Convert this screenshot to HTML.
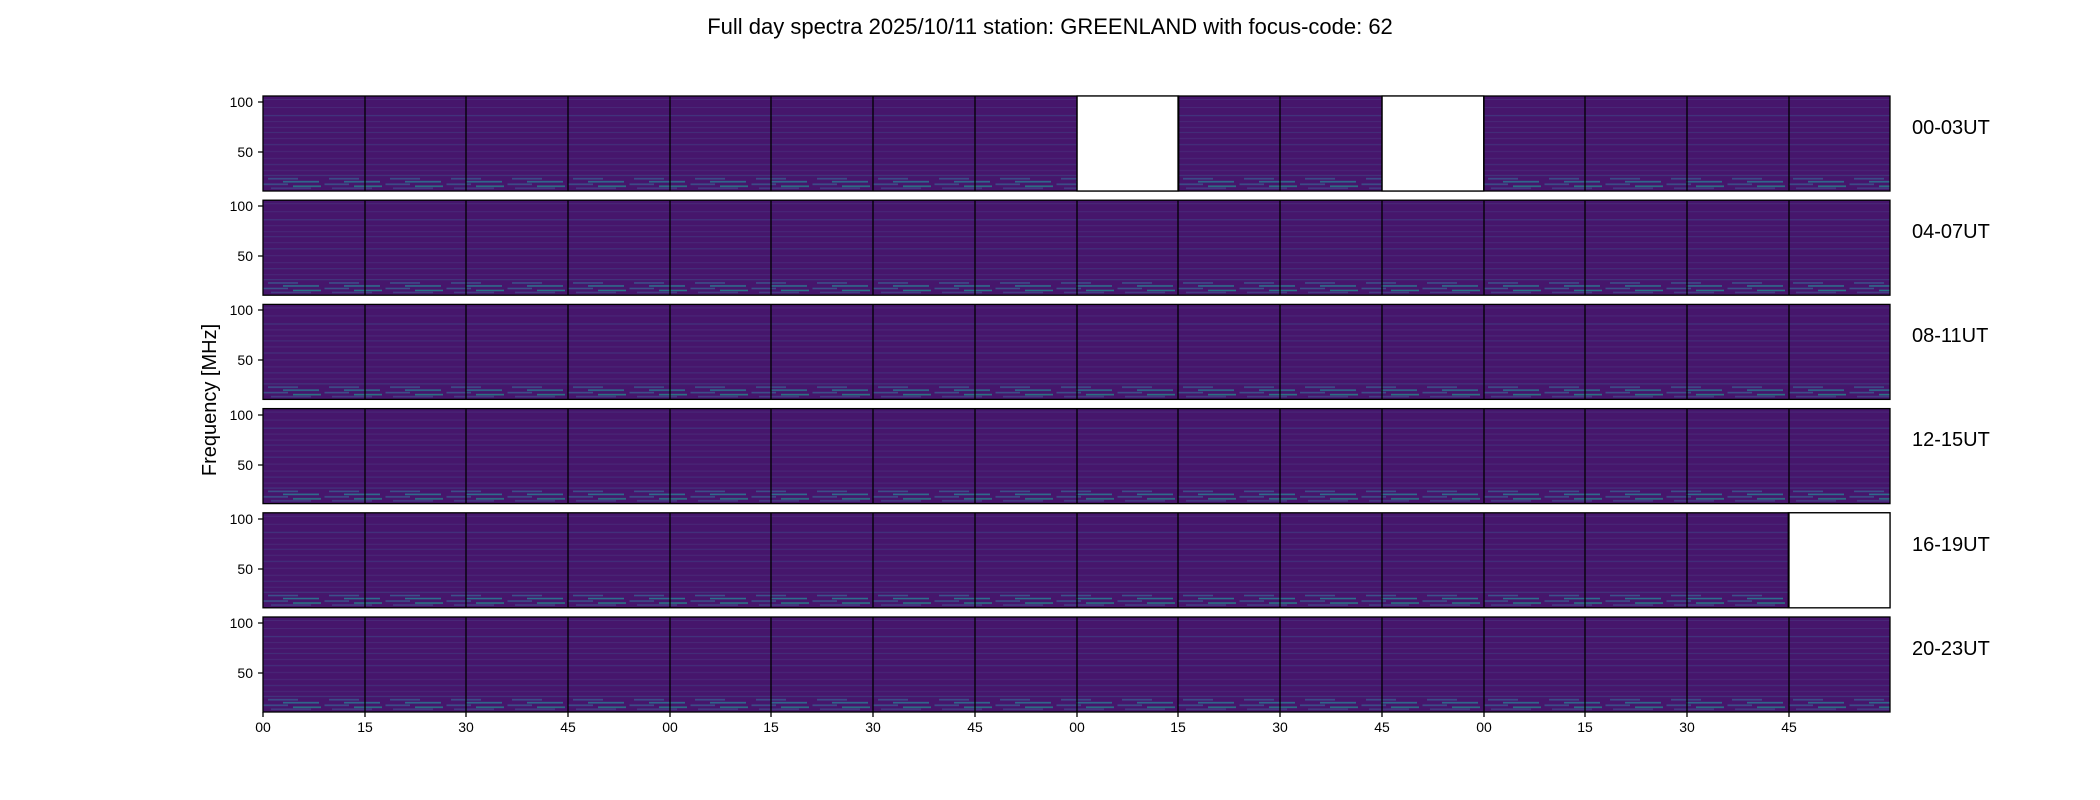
<!DOCTYPE html>
<html><head><meta charset="utf-8"><style>
html,body{margin:0;padding:0;background:#fff;width:2100px;height:800px;overflow:hidden}
svg text{font-family:"Liberation Sans","DejaVu Sans",sans-serif;fill:#000}
</style></head><body>
<svg width="2100" height="800" xmlns="http://www.w3.org/2000/svg">
<defs>
<pattern id="sp" patternUnits="userSpaceOnUse" x="263" y="96" width="61" height="104.2">
<rect width="61" height="104.2" fill="#46166c"/>
<rect y="3" width="61" height="1" fill="#482878"/>
<rect y="11" width="61" height="1" fill="#482878"/>
<rect y="19" width="61" height="1.2" fill="#3e4a89" opacity="0.6"/>
<rect y="25" width="61" height="1" fill="#482878"/>
<rect y="31" width="61" height="1" fill="#482878"/>
<rect y="36" width="61" height="1" fill="#3e4a89" opacity="0.5"/>
<rect y="42" width="61" height="1" fill="#482878"/>
<rect y="48" width="61" height="1.2" fill="#3e4a89" opacity="0.5"/>
<rect y="55" width="61" height="1" fill="#482878"/>
<rect y="62" width="61" height="1" fill="#482878"/>
<rect y="68" width="61" height="1" fill="#3e4a89" opacity="0.5"/>
<rect y="74" width="61" height="1" fill="#482878"/>
<rect y="79" width="61" height="1" fill="#3e4a89" opacity="0.7"/>
<rect x="5" y="82" width="30" height="1.5" fill="#3b528b"/>
<rect x="20" y="85" width="36" height="1.5" fill="#2c728e"/>
<rect x="0" y="87.5" width="25" height="1.5" fill="#3b528b"/>
<rect x="30" y="89.5" width="28" height="1.5" fill="#21918c" opacity="0.8"/>
<rect x="8" y="91.5" width="40" height="1.5" fill="#433e85"/>
</pattern>
</defs>
<rect width="2100" height="800" fill="#fff"/>
<g stroke="#000" stroke-width="1.3">
<rect x="263" y="96" width="1627" height="95" fill="url(#sp)"/>
<rect x="263" y="200.2" width="1627" height="95" fill="url(#sp)"/>
<rect x="263" y="304.4" width="1627" height="95" fill="url(#sp)"/>
<rect x="263" y="408.6" width="1627" height="95" fill="url(#sp)"/>
<rect x="263" y="512.8" width="1627" height="95" fill="url(#sp)"/>
<rect x="263" y="617" width="1627" height="95" fill="url(#sp)"/>
<rect x="1077" y="96" width="101.7" height="95" fill="#fff"/>
<rect x="1382" y="96" width="101.7" height="95" fill="#fff"/>
<rect x="1788.3" y="512.8" width="101.7" height="95" fill="#fff"/>
</g>
<g stroke="#000" stroke-width="1.3">
<path d="M365,96V191M466,96V191M568,96V191M670,96V191M771,96V191M873,96V191M975,96V191M1077,96V191M1178,96V191M1280,96V191M1382,96V191M1484,96V191M1585,96V191M1687,96V191M1789,96V191"/>
<path d="M365,200V295M466,200V295M568,200V295M670,200V295M771,200V295M873,200V295M975,200V295M1077,200V295M1178,200V295M1280,200V295M1382,200V295M1484,200V295M1585,200V295M1687,200V295M1789,200V295"/>
<path d="M365,304V399M466,304V399M568,304V399M670,304V399M771,304V399M873,304V399M975,304V399M1077,304V399M1178,304V399M1280,304V399M1382,304V399M1484,304V399M1585,304V399M1687,304V399M1789,304V399"/>
<path d="M365,409V504M466,409V504M568,409V504M670,409V504M771,409V504M873,409V504M975,409V504M1077,409V504M1178,409V504M1280,409V504M1382,409V504M1484,409V504M1585,409V504M1687,409V504M1789,409V504"/>
<path d="M365,513V608M466,513V608M568,513V608M670,513V608M771,513V608M873,513V608M975,513V608M1077,513V608M1178,513V608M1280,513V608M1382,513V608M1484,513V608M1585,513V608M1687,513V608M1789,513V608"/>
<path d="M365,617V712M466,617V712M568,617V712M670,617V712M771,617V712M873,617V712M975,617V712M1077,617V712M1178,617V712M1280,617V712M1382,617V712M1484,617V712M1585,617V712M1687,617V712M1789,617V712"/>
<path d="M258,102H263M258,152H263M258,206H263M258,256H263M258,310H263M258,360H263M258,415H263M258,465H263M258,519H263M258,569H263M258,623H263M258,673H263"/>
<path d="M263,712V717M365,712V717M466,712V717M568,712V717M670,712V717M771,712V717M873,712V717M975,712V717M1077,712V717M1178,712V717M1280,712V717M1382,712V717M1484,712V717M1585,712V717M1687,712V717M1789,712V717"/>
</g>
<text x="1050" y="34" font-size="22" text-anchor="middle">Full day spectra 2025/10/11 station: GREENLAND with focus-code: 62</text>
<text transform="translate(216,400) rotate(-90)" font-size="20" text-anchor="middle">Frequency [MHz]</text>
<g font-size="20">
<text x="1912" y="134">00-03UT</text>
<text x="1912" y="238">04-07UT</text>
<text x="1912" y="342">08-11UT</text>
<text x="1912" y="446">12-15UT</text>
<text x="1912" y="551">16-19UT</text>
<text x="1912" y="655">20-23UT</text>
</g>
<g font-size="14" text-anchor="end">
<text x="253" y="107">100</text><text x="253" y="157">50</text>
<text x="253" y="211">100</text><text x="253" y="261">50</text>
<text x="253" y="315">100</text><text x="253" y="365">50</text>
<text x="253" y="420">100</text><text x="253" y="470">50</text>
<text x="253" y="524">100</text><text x="253" y="574">50</text>
<text x="253" y="628">100</text><text x="253" y="678">50</text>
</g>
<g font-size="14" text-anchor="middle">
<text x="263" y="732">00</text><text x="365" y="732">15</text><text x="466" y="732">30</text><text x="568" y="732">45</text>
<text x="670" y="732">00</text><text x="771" y="732">15</text><text x="873" y="732">30</text><text x="975" y="732">45</text>
<text x="1077" y="732">00</text><text x="1178" y="732">15</text><text x="1280" y="732">30</text><text x="1382" y="732">45</text>
<text x="1484" y="732">00</text><text x="1585" y="732">15</text><text x="1687" y="732">30</text><text x="1789" y="732">45</text>
</g>
</svg>
</body></html>
